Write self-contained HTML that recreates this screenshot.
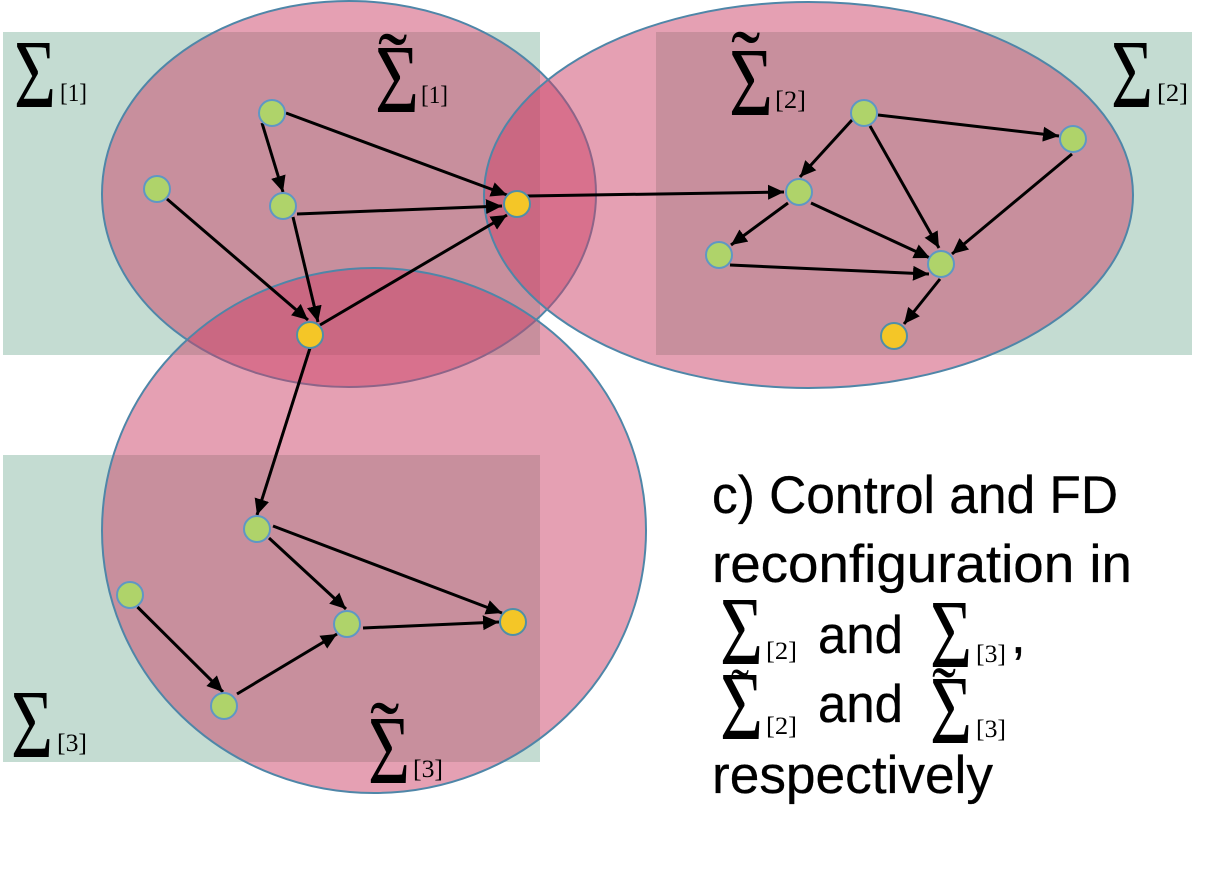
<!DOCTYPE html>
<html>
<head>
<meta charset="utf-8">
<style>
html,body{margin:0;padding:0;background:#fff;width:1222px;height:889px;overflow:hidden}
svg{display:block}
.s{font-family:"Liberation Serif",serif;font-size:98px;fill:#000}
.t{font-family:"Liberation Serif",serif;font-size:88px;fill:#000}
.b{font-family:"Liberation Serif",serif;font-size:25px;fill:#000}
.x{font-family:"Liberation Sans",sans-serif;font-size:53px;fill:#000;stroke:#000;stroke-width:.3}
.l line{stroke:#000;stroke-width:3;marker-end:url(#a)}
.n{stroke:#5f97c4;stroke-width:2}
.g{fill:#afd36a}
.y{fill:#f4c627;stroke:#4f8fa8}
</style>
</head>
<body>
<svg width="1222" height="889" viewBox="0 0 1222 889" xmlns="http://www.w3.org/2000/svg">
<defs>
<marker id="a" markerUnits="userSpaceOnUse" markerWidth="18" markerHeight="16" refX="16" refY="7.5" orient="auto">
<path d="M0 0L16 7.5L0 15z" fill="#000"/>
</marker>
</defs>
<rect width="1222" height="889" fill="#fff"/>
<g fill="#c4dcd2">
<rect x="3" y="32" width="537" height="323"/>
<rect x="656" y="32" width="536" height="323"/>
<rect x="3" y="455" width="537" height="307"/>
</g>
<g fill="#cb4168" fill-opacity=".5" stroke="#4f86a8" stroke-width="2">
<ellipse cx="349" cy="194" rx="247" ry="193"/>
<ellipse cx="808.5" cy="195" rx="324.5" ry="193"/>
<ellipse cx="374" cy="530.5" rx="272" ry="262.5"/>
</g>
<g class="l">
<line x1="286" y1="113" x2="507" y2="195"/>
<line x1="262" y1="123" x2="283" y2="192"/>
<line x1="167" y1="199" x2="308" y2="320"/>
<line x1="297" y1="214" x2="502" y2="206"/>
<line x1="293" y1="217" x2="318" y2="322"/>
<line x1="320" y1="325" x2="507" y2="215"/>
<line x1="527" y1="196" x2="784" y2="192"/>
<line x1="310" y1="348" x2="257" y2="515"/>
<line x1="878" y1="115" x2="1059" y2="136"/>
<line x1="852" y1="120" x2="800" y2="177"/>
<line x1="870" y1="126" x2="939" y2="248"/>
<line x1="1072" y1="154" x2="952" y2="254"/>
<line x1="811" y1="203" x2="930" y2="258"/>
<line x1="788" y1="203" x2="731" y2="245"/>
<line x1="730" y1="265" x2="929" y2="274"/>
<line x1="940" y1="279" x2="904" y2="324"/>
<line x1="273" y1="526" x2="502" y2="613"/>
<line x1="269" y1="538" x2="346" y2="609"/>
<line x1="363" y1="628" x2="499" y2="622"/>
<line x1="137.5" y1="607" x2="223" y2="692"/>
<line x1="237" y1="694" x2="337" y2="634"/>
</g>
<g>
<circle class="n g" cx="272" cy="113" r="13"/>
<circle class="n g" cx="157" cy="189" r="13"/>
<circle class="n g" cx="283" cy="206" r="13"/>
<circle class="n y" cx="517" cy="204" r="13"/>
<circle class="n y" cx="310" cy="335" r="13"/>
<circle class="n g" cx="864" cy="113" r="13"/>
<circle class="n g" cx="1073" cy="139" r="13"/>
<circle class="n g" cx="799" cy="192" r="13"/>
<circle class="n g" cx="719" cy="255" r="13"/>
<circle class="n g" cx="941" cy="264" r="13"/>
<circle class="n y" cx="894" cy="336" r="13"/>
<circle class="n g" cx="257" cy="529" r="13"/>
<circle class="n g" cx="130" cy="595" r="13"/>
<circle class="n g" cx="347" cy="624" r="13"/>
<circle class="n y" cx="513" cy="622" r="13"/>
<circle class="n g" cx="224" cy="706" r="13"/>
</g>
<!-- diagram labels -->
<text class="s" x="14" y="107" textLength="42" lengthAdjust="spacingAndGlyphs">Σ</text>
<text class="b" x="60" y="101" textLength="27" lengthAdjust="spacingAndGlyphs">[1]</text>
<text class="s" x="375" y="112" textLength="44" lengthAdjust="spacingAndGlyphs">Σ</text>
<text class="t" x="378" y="93">˜</text>
<text class="b" x="421" y="103" textLength="27" lengthAdjust="spacingAndGlyphs">[1]</text>
<text class="s" x="729" y="115" textLength="44" lengthAdjust="spacingAndGlyphs">Σ</text>
<text class="t" x="731" y="91">˜</text>
<text class="b" x="775" y="108" textLength="31" lengthAdjust="spacingAndGlyphs">[2]</text>
<text class="s" x="1111" y="107" textLength="42" lengthAdjust="spacingAndGlyphs">Σ</text>
<text class="b" x="1157" y="101" textLength="31" lengthAdjust="spacingAndGlyphs">[2]</text>
<text class="s" x="11" y="757" textLength="42" lengthAdjust="spacingAndGlyphs">Σ</text>
<text class="b" x="57" y="751" textLength="30" lengthAdjust="spacingAndGlyphs">[3]</text>
<text class="s" x="368" y="783" textLength="42" lengthAdjust="spacingAndGlyphs">Σ</text>
<text class="t" x="370" y="762">˜</text>
<text class="b" x="413" y="777" textLength="30" lengthAdjust="spacingAndGlyphs">[3]</text>
<!-- caption -->
<text class="x" x="712" y="513" textLength="406" lengthAdjust="spacingAndGlyphs">c) Control and FD</text>
<text class="x" x="712" y="582" textLength="420" lengthAdjust="spacingAndGlyphs">reconfiguration in</text>
<text class="s" x="720" y="664" textLength="43" lengthAdjust="spacingAndGlyphs">Σ</text>
<text class="b" x="766" y="659" textLength="31" lengthAdjust="spacingAndGlyphs">[2]</text>
<text class="x" x="818" y="653" textLength="85" lengthAdjust="spacingAndGlyphs">and</text>
<text class="s" x="930" y="667" textLength="42" lengthAdjust="spacingAndGlyphs">Σ</text>
<text class="b" x="976" y="662" textLength="30" lengthAdjust="spacingAndGlyphs">[3]</text>
<text class="x" x="1011" y="653">,</text>
<text class="s" x="720" y="739" textLength="43" lengthAdjust="spacingAndGlyphs">Σ</text>
<text style="font-family:'Liberation Serif',serif;font-size:54px" x="731" y="706">˜</text>
<text class="b" x="766" y="734" textLength="31" lengthAdjust="spacingAndGlyphs">[2]</text>
<text class="x" x="818" y="722" textLength="85" lengthAdjust="spacingAndGlyphs">and</text>
<text class="s" x="930" y="743" textLength="42" lengthAdjust="spacingAndGlyphs">Σ</text>
<text style="font-family:'Liberation Serif',serif;font-size:72px" x="932" y="717">˜</text>
<text class="b" x="976" y="737" textLength="30" lengthAdjust="spacingAndGlyphs">[3]</text>
<text class="x" x="712" y="793" textLength="281" lengthAdjust="spacingAndGlyphs">respectively</text>
</svg>
</body>
</html>
